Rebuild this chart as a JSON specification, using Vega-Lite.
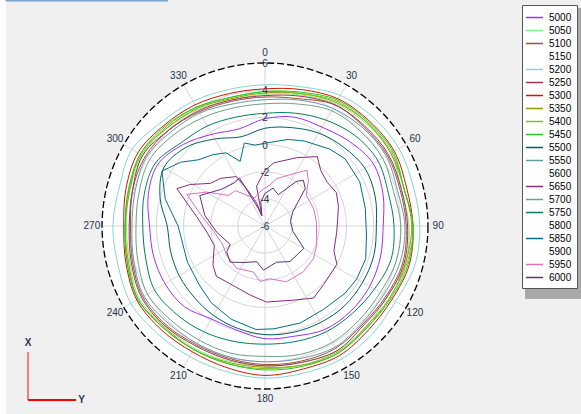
{
"$schema": "https://vega.github.io/schema/vega-lite/v6.json",
"width": 581, "height": 414, "padding": 0, "autosize": {"type": "none"},
"background": "#F0F0F0",
"config": {"view": {"stroke": null}, "text": {"font": "Liberation Sans"}},
"datasets": {
"curves": [
{"s":"5000","a":0,"v":1.9},{"s":"5000","a":15,"v":2.3},{"s":"5000","a":30,"v":2.4},{"s":"5000","a":45,"v":2.8},{"s":"5000","a":60,"v":3.2},{"s":"5000","a":75,"v":3.0},{"s":"5000","a":90,"v":2.7},{"s":"5000","a":105,"v":2.8},{"s":"5000","a":120,"v":2.9},{"s":"5000","a":135,"v":2.9},{"s":"5000","a":150,"v":2.8},{"s":"5000","a":165,"v":2.4},{"s":"5000","a":180,"v":2.3},{"s":"5000","a":195,"v":1.95},{"s":"5000","a":210,"v":1.9},{"s":"5000","a":225,"v":2.4},{"s":"5000","a":240,"v":2.5},{"s":"5000","a":255,"v":2.5},{"s":"5000","a":270,"v":2.5},{"s":"5000","a":285,"v":2.9},{"s":"5000","a":300,"v":3.1},{"s":"5000","a":315,"v":2.5},{"s":"5000","a":330,"v":1.8},{"s":"5000","a":345,"v":1.4},
{"s":"5050","a":0,"v":3.7},{"s":"5050","a":15,"v":4.0},{"s":"5050","a":30,"v":4.4},{"s":"5050","a":45,"v":4.6},{"s":"5050","a":60,"v":4.7},{"s":"5050","a":75,"v":4.4},{"s":"5050","a":90,"v":4.6},{"s":"5050","a":105,"v":4.7},{"s":"5050","a":120,"v":4.4},{"s":"5050","a":135,"v":4.5},{"s":"5050","a":150,"v":4.6},{"s":"5050","a":165,"v":4.4},{"s":"5050","a":180,"v":4.3},{"s":"5050","a":195,"v":4.3},{"s":"5050","a":210,"v":4.4},{"s":"5050","a":225,"v":4.4},{"s":"5050","a":240,"v":4.7},{"s":"5050","a":255,"v":4.3},{"s":"5050","a":270,"v":4.2},{"s":"5050","a":285,"v":4.3},{"s":"5050","a":300,"v":4.4},{"s":"5050","a":315,"v":4.2},{"s":"5050","a":330,"v":3.9},{"s":"5050","a":345,"v":3.6},
{"s":"5100","a":0,"v":3.5},{"s":"5100","a":15,"v":3.7},{"s":"5100","a":30,"v":4.3},{"s":"5100","a":45,"v":4.3},{"s":"5100","a":60,"v":4.4},{"s":"5100","a":75,"v":4.3},{"s":"5100","a":90,"v":4.4},{"s":"5100","a":105,"v":4.5},{"s":"5100","a":120,"v":4.3},{"s":"5100","a":135,"v":4.2},{"s":"5100","a":150,"v":4.4},{"s":"5100","a":165,"v":4.3},{"s":"5100","a":180,"v":4.2},{"s":"5100","a":195,"v":4.1},{"s":"5100","a":210,"v":4.1},{"s":"5100","a":225,"v":4.3},{"s":"5100","a":240,"v":4.4},{"s":"5100","a":255,"v":4.1},{"s":"5100","a":270,"v":3.9},{"s":"5100","a":285,"v":4.1},{"s":"5100","a":300,"v":4.2},{"s":"5100","a":315,"v":4.0},{"s":"5100","a":330,"v":3.7},{"s":"5100","a":345,"v":3.5},
{"s":"5200","a":0,"v":4.4},{"s":"5200","a":15,"v":4.6},{"s":"5200","a":30,"v":5.1},{"s":"5200","a":45,"v":5.3},{"s":"5200","a":60,"v":5.4},{"s":"5200","a":75,"v":5.3},{"s":"5200","a":90,"v":5.4},{"s":"5200","a":105,"v":5.4},{"s":"5200","a":120,"v":5.1},{"s":"5200","a":135,"v":5.2},{"s":"5200","a":150,"v":5.3},{"s":"5200","a":165,"v":5.2},{"s":"5200","a":180,"v":5.2},{"s":"5200","a":195,"v":5.1},{"s":"5200","a":210,"v":5.1},{"s":"5200","a":225,"v":5.2},{"s":"5200","a":240,"v":5.4},{"s":"5200","a":255,"v":5.2},{"s":"5200","a":270,"v":5.2},{"s":"5200","a":285,"v":5.1},{"s":"5200","a":300,"v":5.3},{"s":"5200","a":315,"v":4.8},{"s":"5200","a":330,"v":4.6},{"s":"5200","a":345,"v":4.4},
{"s":"5250","a":0,"v":3.6},{"s":"5250","a":15,"v":3.9},{"s":"5250","a":30,"v":4.3},{"s":"5250","a":45,"v":4.4},{"s":"5250","a":60,"v":4.5},{"s":"5250","a":75,"v":4.4},{"s":"5250","a":90,"v":4.5},{"s":"5250","a":105,"v":4.6},{"s":"5250","a":120,"v":4.4},{"s":"5250","a":135,"v":4.3},{"s":"5250","a":150,"v":4.6},{"s":"5250","a":165,"v":4.4},{"s":"5250","a":180,"v":4.3},{"s":"5250","a":195,"v":4.2},{"s":"5250","a":210,"v":4.2},{"s":"5250","a":225,"v":4.4},{"s":"5250","a":240,"v":4.5},{"s":"5250","a":255,"v":4.2},{"s":"5250","a":270,"v":4.0},{"s":"5250","a":285,"v":4.1},{"s":"5250","a":300,"v":4.4},{"s":"5250","a":315,"v":4.0},{"s":"5250","a":330,"v":3.8},{"s":"5250","a":345,"v":3.6},
{"s":"5300","a":0,"v":4.1},{"s":"5300","a":15,"v":4.4},{"s":"5300","a":30,"v":4.8},{"s":"5300","a":45,"v":4.9},{"s":"5300","a":60,"v":5.0},{"s":"5300","a":75,"v":4.8},{"s":"5300","a":90,"v":4.9},{"s":"5300","a":105,"v":5.0},{"s":"5300","a":120,"v":4.8},{"s":"5300","a":135,"v":4.8},{"s":"5300","a":150,"v":5.0},{"s":"5300","a":165,"v":4.9},{"s":"5300","a":180,"v":5.0},{"s":"5300","a":195,"v":4.8},{"s":"5300","a":210,"v":4.7},{"s":"5300","a":225,"v":4.8},{"s":"5300","a":240,"v":4.9},{"s":"5300","a":255,"v":4.6},{"s":"5300","a":270,"v":4.4},{"s":"5300","a":285,"v":4.6},{"s":"5300","a":300,"v":4.8},{"s":"5300","a":315,"v":4.5},{"s":"5300","a":330,"v":4.3},{"s":"5300","a":345,"v":4.1},
{"s":"5350","a":0,"v":3.8},{"s":"5350","a":15,"v":4.1},{"s":"5350","a":30,"v":4.5},{"s":"5350","a":45,"v":4.7},{"s":"5350","a":60,"v":4.7},{"s":"5350","a":75,"v":4.6},{"s":"5350","a":90,"v":4.8},{"s":"5350","a":105,"v":4.7},{"s":"5350","a":120,"v":4.6},{"s":"5350","a":135,"v":4.5},{"s":"5350","a":150,"v":4.8},{"s":"5350","a":165,"v":4.6},{"s":"5350","a":180,"v":4.4},{"s":"5350","a":195,"v":4.4},{"s":"5350","a":210,"v":4.5},{"s":"5350","a":225,"v":4.5},{"s":"5350","a":240,"v":4.8},{"s":"5350","a":255,"v":4.4},{"s":"5350","a":270,"v":4.3},{"s":"5350","a":285,"v":4.3},{"s":"5350","a":300,"v":4.6},{"s":"5350","a":315,"v":4.2},{"s":"5350","a":330,"v":4.0},{"s":"5350","a":345,"v":3.7},
{"s":"5400","a":0,"v":3.9},{"s":"5400","a":15,"v":4.1},{"s":"5400","a":30,"v":4.6},{"s":"5400","a":45,"v":4.7},{"s":"5400","a":60,"v":4.8},{"s":"5400","a":75,"v":4.6},{"s":"5400","a":90,"v":4.9},{"s":"5400","a":105,"v":4.8},{"s":"5400","a":120,"v":4.6},{"s":"5400","a":135,"v":4.6},{"s":"5400","a":150,"v":4.7},{"s":"5400","a":165,"v":4.6},{"s":"5400","a":180,"v":4.5},{"s":"5400","a":195,"v":4.5},{"s":"5400","a":210,"v":4.5},{"s":"5400","a":225,"v":4.6},{"s":"5400","a":240,"v":4.8},{"s":"5400","a":255,"v":4.5},{"s":"5400","a":270,"v":4.3},{"s":"5400","a":285,"v":4.4},{"s":"5400","a":300,"v":4.5},{"s":"5400","a":315,"v":4.3},{"s":"5400","a":330,"v":4.1},{"s":"5400","a":345,"v":3.8},
{"s":"5450","a":0,"v":3.9},{"s":"5450","a":15,"v":4.2},{"s":"5450","a":30,"v":4.7},{"s":"5450","a":45,"v":4.8},{"s":"5450","a":60,"v":4.9},{"s":"5450","a":75,"v":4.6},{"s":"5450","a":90,"v":4.9},{"s":"5450","a":105,"v":4.9},{"s":"5450","a":120,"v":4.7},{"s":"5450","a":135,"v":4.6},{"s":"5450","a":150,"v":4.8},{"s":"5450","a":165,"v":4.7},{"s":"5450","a":180,"v":4.6},{"s":"5450","a":195,"v":4.5},{"s":"5450","a":210,"v":4.5},{"s":"5450","a":225,"v":4.6},{"s":"5450","a":240,"v":4.8},{"s":"5450","a":255,"v":4.5},{"s":"5450","a":270,"v":4.3},{"s":"5450","a":285,"v":4.4},{"s":"5450","a":300,"v":4.6},{"s":"5450","a":315,"v":4.4},{"s":"5450","a":330,"v":4.1},{"s":"5450","a":345,"v":3.8},
{"s":"5500","a":0,"v":1.2},{"s":"5500","a":15,"v":1.5},{"s":"5500","a":30,"v":1.9},{"s":"5500","a":45,"v":2.2},{"s":"5500","a":60,"v":2.5},{"s":"5500","a":75,"v":2.4},{"s":"5500","a":90,"v":2.2},{"s":"5500","a":105,"v":2.3},{"s":"5500","a":120,"v":2.3},{"s":"5500","a":135,"v":2.3},{"s":"5500","a":150,"v":2.2},{"s":"5500","a":165,"v":2.1},{"s":"5500","a":180,"v":2.0},{"s":"5500","a":195,"v":1.8},{"s":"5500","a":210,"v":1.6},{"s":"5500","a":225,"v":1.4},{"s":"5500","a":240,"v":1.3},{"s":"5500","a":255,"v":1.2},{"s":"5500","a":270,"v":1.2},{"s":"5500","a":285,"v":2.0},{"s":"5500","a":300,"v":2.6},{"s":"5500","a":315,"v":2.2},{"s":"5500","a":330,"v":1.4},{"s":"5500","a":345,"v":0.8},
{"s":"5550","a":0,"v":3.3},{"s":"5550","a":15,"v":3.6},{"s":"5550","a":30,"v":4.0},{"s":"5550","a":45,"v":4.2},{"s":"5550","a":60,"v":4.3},{"s":"5550","a":75,"v":4.1},{"s":"5550","a":90,"v":4.3},{"s":"5550","a":105,"v":4.3},{"s":"5550","a":120,"v":4.1},{"s":"5550","a":135,"v":4.1},{"s":"5550","a":150,"v":4.3},{"s":"5550","a":165,"v":4.1},{"s":"5550","a":180,"v":4.0},{"s":"5550","a":195,"v":4.0},{"s":"5550","a":210,"v":4.0},{"s":"5550","a":225,"v":4.1},{"s":"5550","a":240,"v":4.3},{"s":"5550","a":255,"v":4.0},{"s":"5550","a":270,"v":3.8},{"s":"5550","a":285,"v":3.9},{"s":"5550","a":300,"v":4.1},{"s":"5550","a":315,"v":3.8},{"s":"5550","a":330,"v":3.6},{"s":"5550","a":345,"v":3.3},
{"s":"5700","a":0,"v":3.0},{"s":"5700","a":15,"v":3.3},{"s":"5700","a":30,"v":3.8},{"s":"5700","a":45,"v":3.9},{"s":"5700","a":60,"v":4.0},{"s":"5700","a":75,"v":3.8},{"s":"5700","a":90,"v":4.0},{"s":"5700","a":105,"v":4.0},{"s":"5700","a":120,"v":3.8},{"s":"5700","a":135,"v":3.8},{"s":"5700","a":150,"v":3.9},{"s":"5700","a":165,"v":3.8},{"s":"5700","a":180,"v":3.6},{"s":"5700","a":195,"v":3.7},{"s":"5700","a":210,"v":3.7},{"s":"5700","a":225,"v":3.8},{"s":"5700","a":240,"v":4.0},{"s":"5700","a":255,"v":3.7},{"s":"5700","a":270,"v":3.5},{"s":"5700","a":285,"v":3.6},{"s":"5700","a":300,"v":3.8},{"s":"5700","a":315,"v":3.5},{"s":"5700","a":330,"v":3.2},{"s":"5700","a":345,"v":3.0},
{"s":"5750","a":0,"v":2.3},{"s":"5750","a":15,"v":2.6},{"s":"5750","a":30,"v":3.0},{"s":"5750","a":45,"v":3.4},{"s":"5750","a":60,"v":3.6},{"s":"5750","a":75,"v":3.4},{"s":"5750","a":90,"v":3.5},{"s":"5750","a":105,"v":3.6},{"s":"5750","a":120,"v":3.3},{"s":"5750","a":135,"v":3.1},{"s":"5750","a":150,"v":3.0},{"s":"5750","a":165,"v":2.8},{"s":"5750","a":180,"v":2.7},{"s":"5750","a":195,"v":2.8},{"s":"5750","a":210,"v":3.0},{"s":"5750","a":225,"v":3.2},{"s":"5750","a":240,"v":3.4},{"s":"5750","a":255,"v":3.1},{"s":"5750","a":270,"v":3.0},{"s":"5750","a":285,"v":3.2},{"s":"5750","a":300,"v":3.3},{"s":"5750","a":315,"v":2.7},{"s":"5750","a":330,"v":2.5},{"s":"5750","a":345,"v":2.3},
{"s":"5850","a":0,"v":0.1},{"s":"5850","a":15,"v":0.6},{"s":"5850","a":25,"v":0.9},{"s":"5850","a":40,"v":1.4},{"s":"5850","a":50,"v":1.7},{"s":"5850","a":65,"v":1.7},{"s":"5850","a":80,"v":1.5},{"s":"5850","a":95,"v":1.5},{"s":"5850","a":108,"v":1.8},{"s":"5850","a":120,"v":1.8},{"s":"5850","a":130,"v":1.7},{"s":"5850","a":145,"v":1.5},{"s":"5850","a":160,"v":1.6},{"s":"5850","a":175,"v":1.6},{"s":"5850","a":185,"v":1.65},{"s":"5850","a":200,"v":1.3},{"s":"5850","a":215,"v":0.9},{"s":"5850","a":228,"v":0.5},{"s":"5850","a":245,"v":0.3},{"s":"5850","a":258,"v":0.2},{"s":"5850","a":270,"v":0.4},{"s":"5850","a":285,"v":1.6},{"s":"5850","a":298,"v":2.6},{"s":"5850","a":307,"v":1.8},{"s":"5850","a":315,"v":0.9},{"s":"5850","a":324,"v":0.5},{"s":"5850","a":332,"v":0.1},{"s":"5850","a":339,"v":-0.9},{"s":"5850","a":346,"v":0.3},{"s":"5850","a":353,"v":0.0},
{"s":"5650","a":0,"v":-1.9},{"s":"5650","a":8,"v":-1.3},{"s":"5650","a":25,"v":-0.45},{"s":"5650","a":37,"v":0.4},{"s":"5650","a":45,"v":-0.2},{"s":"5650","a":55,"v":-0.4},{"s":"5650","a":65,"v":-0.2},{"s":"5650","a":75,"v":-0.4},{"s":"5650","a":83,"v":-0.6},{"s":"5650","a":95,"v":-0.7},{"s":"5650","a":110,"v":-0.6},{"s":"5650","a":118,"v":0.0},{"s":"5650","a":135,"v":0.1},{"s":"5650","a":146,"v":0.4},{"s":"5650","a":159,"v":-0.15},{"s":"5650","a":179,"v":-0.4},{"s":"5650","a":192,"v":-0.8},{"s":"5650","a":215,"v":-1.0},{"s":"5650","a":224,"v":-0.85},{"s":"5650","a":233,"v":-1.2},{"s":"5650","a":249,"v":-2.0},{"s":"5650","a":264,"v":-1.7},{"s":"5650","a":278,"v":-0.9},{"s":"5650","a":293,"v":1.05},{"s":"5650","a":299,"v":0.3},{"s":"5650","a":308,"v":-0.9},{"s":"5650","a":317,"v":-1.2},{"s":"5650","a":330,"v":-1.8},{"s":"5650","a":334,"v":-3.0},{"s":"5650","a":340,"v":-4.2},{"s":"5650","a":343,"v":-5.2},{"s":"5650","a":348,"v":-3.0},
{"s":"5950","a":0,"v":-3.2},{"s":"5950","a":7,"v":-2.95},{"s":"5950","a":14,"v":-2.4},{"s":"5950","a":26,"v":-1.8},{"s":"5950","a":37,"v":-0.85},{"s":"5950","a":44,"v":-1.4},{"s":"5950","a":53,"v":-2.2},{"s":"5950","a":70,"v":-2.2},{"s":"5950","a":85,"v":-2.2},{"s":"5950","a":110,"v":-1.95},{"s":"5950","a":124,"v":-1.7},{"s":"5950","a":140,"v":-1.6},{"s":"5950","a":159,"v":-1.6},{"s":"5950","a":175,"v":-2.1},{"s":"5950","a":185,"v":-1.9},{"s":"5950","a":194,"v":-2.5},{"s":"5950","a":214,"v":-2.25},{"s":"5950","a":233,"v":-2.45},{"s":"5950","a":246,"v":-2.6},{"s":"5950","a":264,"v":-2.2},{"s":"5950","a":280,"v":-1.2},{"s":"5950","a":292,"v":0.2},{"s":"5950","a":300,"v":-1.0},{"s":"5950","a":310,"v":-2.5},{"s":"5950","a":320,"v":-2.6},{"s":"5950","a":329,"v":-3.35},{"s":"5950","a":340,"v":-3.8},{"s":"5950","a":350,"v":-3.5},
{"s":"6000","a":0,"v":-3.6},{"s":"6000","a":12,"v":-3.15},{"s":"6000","a":23,"v":-3.5},{"s":"6000","a":35,"v":-2.0},{"s":"6000","a":40,"v":-1.6},{"s":"6000","a":47,"v":-1.95},{"s":"6000","a":63,"v":-3.7},{"s":"6000","a":80,"v":-4.1},{"s":"6000","a":101,"v":-3.9},{"s":"6000","a":120,"v":-2.7},{"s":"6000","a":145,"v":-2.8},{"s":"6000","a":162,"v":-3.2},{"s":"6000","a":182,"v":-2.75},{"s":"6000","a":193,"v":-3.3},{"s":"6000","a":210,"v":-2.9},{"s":"6000","a":224,"v":-2.3},{"s":"6000","a":236,"v":-2.6},{"s":"6000","a":242,"v":-3.1},{"s":"6000","a":263,"v":-2.4},{"s":"6000","a":280,"v":-1.5},{"s":"6000","a":295,"v":-0.7},{"s":"6000","a":310,"v":-1.8},{"s":"6000","a":325,"v":-2.1},{"s":"6000","a":332,"v":-2.0},{"s":"6000","a":339,"v":-4.6},{"s":"6000","a":343,"v":-5.2},{"s":"6000","a":350,"v":-4.2}
]
},
"layer": [
{"data": {"values": [{"px": 0, "py": 0}]},
 "mark": {"type": "point", "opacity": 0},
 "encoding": {
  "x": {"field": "px", "type": "quantitative", "scale": {"domain": [-19.514, 23.27], "nice": false, "zero": false}, "axis": null},
  "y": {"field": "py", "type": "quantitative", "scale": {"domain": [-13.844, 16.642], "nice": false, "zero": false}, "axis": null}}},
{"data": {"values": [{"k": "strip"}]}, "mark": {"type": "rect", "fill": "#FFFFFF"},
 "encoding": {"x": {"datum": -19.6, "type": "quantitative"}, "x2": {"datum": -19.07}, "y": {"datum": -14, "type": "quantitative"}, "y2": {"datum": 16.8}}},
{"data": {"values": [{"k": "tab"}]}, "mark": {"type": "rule", "stroke": "#7BA4D4", "strokeWidth": 2},
 "encoding": {"x": {"datum": -19.1, "type": "quantitative"}, "x2": {"datum": -7.14}, "y": {"datum": 16.6, "type": "quantitative"}}},
{"data": {"values": [{"v": 6}]},
 "transform": [{"calculate": "datum.v+6", "as": "rr"}, {"calculate": "0", "as": "px"}, {"calculate": "0", "as": "py"}],
 "mark": {"type": "point", "shape": "circle", "filled": true, "fill": "#FFFFFF", "opacity": 1, "strokeWidth": 0},
 "encoding": {"x": {"field": "px", "type": "quantitative"}, "y": {"field": "py", "type": "quantitative"},
  "size": {"field": "rr", "type": "quantitative", "scale": {"type": "pow", "exponent": 2, "domain": [0, 12], "range": [0, 106225]}, "legend": null}}},
{"data": {"values": [{"v": -4}, {"v": -2}, {"v": 0}, {"v": 2}, {"v": 4}]},
 "transform": [{"calculate": "datum.v+6", "as": "rr"}, {"calculate": "0", "as": "px"}, {"calculate": "0", "as": "py"}],
 "mark": {"type": "point", "shape": "circle", "filled": false, "stroke": "#D6D6D6", "strokeWidth": 1, "opacity": 1},
 "encoding": {"x": {"field": "px", "type": "quantitative"}, "y": {"field": "py", "type": "quantitative"},
  "size": {"field": "rr", "type": "quantitative", "scale": {"type": "pow", "exponent": 2, "domain": [0, 12], "range": [0, 106225]}, "legend": null}}},
{"data": {"values": [{"a": 0}, {"a": 30}, {"a": 60}, {"a": 90}, {"a": 120}, {"a": 150}, {"a": 180}, {"a": 210}, {"a": 240}, {"a": 270}, {"a": 300}, {"a": 330}]},
 "transform": [{"calculate": "0", "as": "px"}, {"calculate": "0", "as": "py"}, {"calculate": "12*sin(datum.a*PI/180)", "as": "px2"}, {"calculate": "12*cos(datum.a*PI/180)", "as": "py2"}],
 "mark": {"type": "rule", "stroke": "#D6D6D6", "strokeWidth": 1},
 "encoding": {"x": {"field": "px", "type": "quantitative"}, "y": {"field": "py", "type": "quantitative"}, "x2": {"field": "px2"}, "y2": {"field": "py2"}}},
{"data": {"name": "curves"},
 "transform": [{"filter": "datum.s!=='5650'&&datum.s!=='5950'&&datum.s!=='6000'&&datum.s!=='5850'"}, {"calculate": "(datum.v+6)*sin(datum.a*PI/180)", "as": "px"}, {"calculate": "(datum.v+6)*cos(datum.a*PI/180)", "as": "py"}],
 "mark": {"type": "line", "interpolate": "cardinal-closed", "strokeWidth": 1},
 "encoding": {
  "x": {"field": "px", "type": "quantitative"}, "y": {"field": "py", "type": "quantitative"},
  "color": {"field": "s", "type": "nominal",
   "scale": {"domain": ["5000","5050","5100","5150","5200","5250","5300","5350","5400","5450","5500","5550","5600","5650","5700","5750","5800","5850","5900","5950","6000"],
             "range": ["#9B30FF","#80F080","#A0522D","#FFFFFF","#88D4D4","#A0305A","#CC1800","#999900","#80C020","#22CC22","#006060","#6898B0","#FFFFFF","#8B2B80","#70A080","#008060","#FFFFFF","#007080","#FFFFFF","#E070C0","#603080"]},
   "legend": {"orient": "none", "legendX": 522, "legendY": 5, "title": null, "symbolType": "M-1.27,0H1.27", "symbolSize": 180, "symbolStrokeWidth": 1.5, "symbolFillColor": "transparent", "labelFont": "Liberation Sans", "labelFontSize": 10, "labelColor": "#000000", "labelOffset": 7, "rowPadding": 0, "padding": 5, "strokeColor": "#555555", "fillColor": "#FFFFFF"}},
  "order": {"field": "a", "type": "quantitative"},
  "strokeWidth": {"condition": {"test": "datum.s==='5000'", "value": 1.4}, "value": 1}
 }},
{"data": {"name": "curves"},
 "transform": [{"filter": "datum.s==='5650'||datum.s==='5950'||datum.s==='6000'||datum.s==='5850'"}, {"calculate": "(datum.v+6)*sin(datum.a*PI/180)", "as": "px"}, {"calculate": "(datum.v+6)*cos(datum.a*PI/180)", "as": "py"}],
 "mark": {"type": "line", "interpolate": "linear-closed", "strokeWidth": 1},
 "encoding": {
  "x": {"field": "px", "type": "quantitative"}, "y": {"field": "py", "type": "quantitative"},
  "color": {"field": "s", "type": "nominal"},
  "order": {"field": "a", "type": "quantitative"},
  "strokeWidth": {"condition": {"test": "datum.s==='5950'", "value": 1.3}, "value": 1}
 }},
{"data": {"values": [{"v": 6}]},
 "transform": [{"calculate": "datum.v+6", "as": "rr"}, {"calculate": "0", "as": "px"}, {"calculate": "0", "as": "py"}],
 "mark": {"type": "point", "shape": "circle", "filled": false, "stroke": "#000000", "strokeWidth": 1.3, "strokeDash": [7, 3], "opacity": 1},
 "encoding": {"x": {"field": "px", "type": "quantitative"}, "y": {"field": "py", "type": "quantitative"},
  "size": {"field": "rr", "type": "quantitative", "scale": {"type": "pow", "exponent": 2, "domain": [0, 12], "range": [0, 106225]}, "legend": null}}},
{"data": {"values": [{"t": "0", "a": 0}, {"t": "30", "a": 30}, {"t": "60", "a": 60}, {"t": "90", "a": 90}, {"t": "120", "a": 120}, {"t": "150", "a": 150}, {"t": "180", "a": 180}, {"t": "210", "a": 210}, {"t": "240", "a": 240}, {"t": "270", "a": 270}, {"t": "300", "a": 300}, {"t": "330", "a": 330}]},
 "transform": [{"calculate": "12.75*sin(datum.a*PI/180)", "as": "px"}, {"calculate": "12.75*cos(datum.a*PI/180)", "as": "py"}],
 "mark": {"type": "text", "fontSize": 10, "fill": "#26344A", "align": "center", "baseline": "middle"},
 "encoding": {"x": {"field": "px", "type": "quantitative"}, "y": {"field": "py", "type": "quantitative"}, "text": {"field": "t"}}},
{"data": {"values": [{"t": "6", "v": 6}, {"t": "4", "v": 4}, {"t": "2", "v": 2}, {"t": "0", "v": 0}, {"t": "-2", "v": -2}, {"t": "-4", "v": -4}, {"t": "-6", "v": -6}]},
 "transform": [{"calculate": "0", "as": "px"}, {"calculate": "datum.v+6", "as": "py"}],
 "mark": {"type": "text", "fontSize": 10, "fill": "#26344A", "align": "center", "baseline": "middle", "dy": 1},
 "encoding": {"x": {"field": "px", "type": "quantitative"}, "y": {"field": "py", "type": "quantitative"}, "text": {"field": "t"}}},
{"data": {"values": [{"k": "xaxis"}]}, "mark": {"type": "rule", "stroke": "#F08080", "strokeWidth": 2},
 "encoding": {"x": {"datum": -17.45, "type": "quantitative"}, "y": {"datum": -9.28, "type": "quantitative"}, "y2": {"datum": -12.81}}},
{"data": {"values": [{"k": "yaxis"}]}, "mark": {"type": "rule", "stroke": "#FF0000", "strokeWidth": 2},
 "encoding": {"x": {"datum": -17.45, "type": "quantitative"}, "x2": {"datum": -13.92}, "y": {"datum": -12.81, "type": "quantitative"}}},
{"data": {"values": [{"t": "X", "px": -17.45, "py": -8.65}, {"t": "Y", "px": -13.5, "py": -12.81}]}, "mark": {"type": "text", "fontSize": 10, "fontWeight": "bold", "fill": "#33335A", "align": "center", "baseline": "middle"},
 "encoding": {"x": {"field": "px", "type": "quantitative"}, "y": {"field": "py", "type": "quantitative"}, "text": {"field": "t"}}},
{"data": {"values": [{"k": "shadow"}]}, "mark": {"type": "rect", "fill": "#A8A8A8"},
 "encoding": {"x": {"datum": 19.15, "type": "quantitative"}, "x2": {"datum": 23.27}, "y": {"datum": 16.05, "type": "quantitative"}, "y2": {"datum": -5.38}}}
]
}
